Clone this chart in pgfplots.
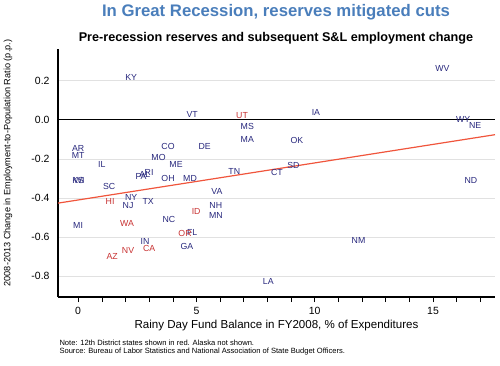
\documentclass[border=0pt]{standalone}
\usepackage{fontspec}
\setmainfont{Liberation Sans}
\usepackage{pgfplots}
\pgfplotsset{compat=1.18}
\definecolor{stblue}{RGB}{40,40,125}
\definecolor{stred}{RGB}{200,50,50}
\definecolor{ttlblue}{RGB}{74,126,187}
\definecolor{regline}{RGB}{240,85,60}
\definecolor{gridc}{RGB}{225,225,225}
\begin{document}
\begin{tikzpicture}[x=1bp,y=1bp]
\useasboundingbox (0,0) rectangle (500,365);
\node[font=\bfseries\fontsize{16.8}{18}\selectfont, text=ttlblue] at (276,365-12) {In Great Recession, reserves mitigated cuts};
\node[font=\bfseries\fontsize{12.7}{14}\selectfont] at (276,365-38.5) {Pre-recession reserves and subsequent S\&L employment change};
\begin{axis}[
  at={(58bp,68bp)}, anchor=south west,
  scale only axis, width=437bp, height=248bp,
  xmin=-0.85, xmax=17.62, ymin=-0.907, ymax=0.362,
  axis x line*=bottom, axis y line*=left,
  axis line style={line width=1.2pt, black},
  xtick={0,5,10,15}, minor xtick={-1,0,...,17},
  tick align=outside, major tick length=5bp, minor tick length=5bp,
  every tick/.style={black, line width=0.5pt},
  ytick={-0.8,-0.6,-0.4,-0.2,0.2},
  extra y ticks={0}, extra y tick style={grid=none},
  ytick style={draw=none},
  ymajorgrids, grid style={gridc, line width=0.6pt},
  yticklabel style={/pgf/number format/.cd, fixed, fixed zerofill, precision=1},
  /pgf/number format/assume math mode=true,
  ticklabel style={font=\fontsize{10.5}{12}\selectfont},
  xticklabel style={yshift=-2bp},
  xlabel={Rainy Day Fund Balance in FY2008, \% of Expenditures},
  xlabel style={font=\fontsize{11.6}{13}\selectfont, yshift=2bp},
  clip=false,
]
\addplot[black, line width=1pt, forget plot] coordinates {(-0.85,0) (17.62,0)};
\addplot[regline, line width=1.2pt] coordinates {(-0.85,-0.4267) (17.62,-0.0765)};
\addplot[only marks, mark=none, nodes near coords, point meta=explicit symbolic,
  every node near coord/.style={anchor=center, text=stblue, font=\fontsize{8.8}{10}\selectfont}]
  table[meta=lab] {
x y lab
2.24 0.214 KY
0 -0.148 AR
0 -0.184 MT
1.0 -0.23 IL
3.8 -0.138 CO
5.35 -0.138 DE
3.4 -0.194 MO
4.14 -0.23 ME
0 -0.31 KS
0.05 -0.31 WI
2.66 -0.29 PA
2.82 -0.28 AL
3.0 -0.272 RI
1.31 -0.34 SC
3.8 -0.30 OH
4.73 -0.30 MD
4.82 0.025 VT
7.15 -0.035 MS
7.15 -0.10 MA
10.05 0.035 IA
9.25 -0.107 OK
6.6 -0.265 TN
8.4 -0.27 CT
9.1 -0.235 SD
5.87 -0.365 VA
5.82 -0.44 NH
5.82 -0.49 MN
8.04 -0.83 LA
15.4 0.26 WV
16.27 0.0 WY
16.78 -0.03 NE
16.6 -0.31 ND
11.85 -0.62 NM
2.24 -0.40 NY
2.11 -0.44 NJ
2.96 -0.42 TX
0 -0.54 MI
3.84 -0.51 NC
4.82 -0.575 FL
2.83 -0.625 IN
4.6 -0.65 GA
};
\addplot[only marks, mark=none, nodes near coords, point meta=explicit symbolic,
  every node near coord/.style={anchor=center, text=stred, font=\fontsize{8.8}{10}\selectfont}]
  table[meta=lab] {
x y lab
6.93 0.02 UT
1.35 -0.42 HI
4.99 -0.47 ID
2.07 -0.53 WA
4.52 -0.58 OR
3.0 -0.66 CA
2.11 -0.67 NV
1.44 -0.70 AZ
};
\end{axis}
\node[rotate=90, font=\fontsize{9.2}{10}\selectfont] at (8,365-163) {2008-2013 Change in Employment-to-Population Ratio (p.p.)};
\node[anchor=west, font=\fontsize{7.6}{8}\selectfont, align=left] at (56,365-347.5) {Note: 12th District states shown in red. Alaska not shown.\\Source: Bureau of Labor Statistics and National Association of State Budget Officers.};
\end{tikzpicture}
\end{document}
